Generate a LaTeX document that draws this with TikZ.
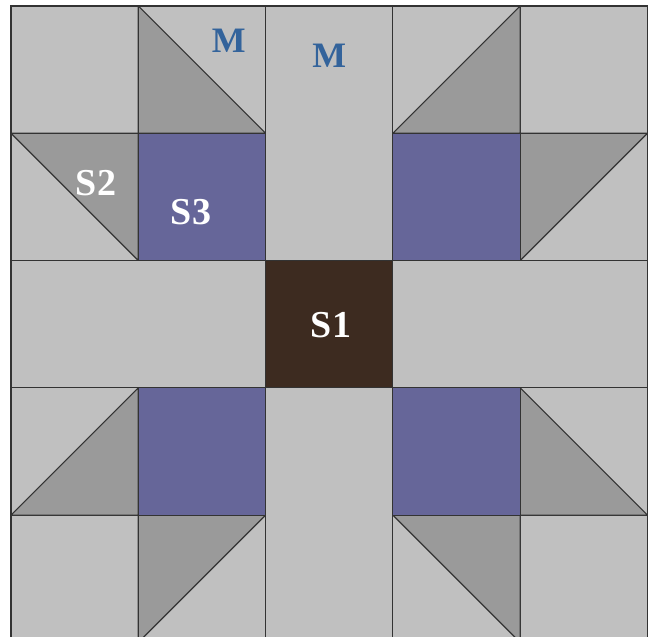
\documentclass[tikz,border=0pt]{standalone}
\usepackage{fontspec}
\setmainfont{Liberation Serif}

\definecolor{patchlight}{HTML}{C0C0C0}
\definecolor{patchdark}{HTML}{9A9A9A}
\definecolor{patchpurple}{HTML}{666699}
\definecolor{patchbrown}{HTML}{3D2B20}
\definecolor{labelblue}{HTML}{33639B}

\tikzset{
  piece/.style={draw=black!80, line width=0.5pt},
  light/.style={piece, fill=patchlight},
  dark/.style={piece, fill=patchdark, line join=round},
  purple/.style={piece, fill=patchpurple},
  brown/.style={piece, fill=patchbrown},
  seamtext/.style={font=\bfseries\fontsize{17}{20}\selectfont, text=white},
  marktext/.style={font=\bfseries\fontsize{16}{19}\selectfont, text=labelblue}
}

\begin{document}
\begin{tikzpicture}[x=2cm,y=2cm]

\useasboundingbox (-0.0864,0.043) rectangle (5.02,5.047);
\fill[white] (-0.0864,0.043) rectangle (5.02,5.047);

% Corners
\draw[light] (0,4) rectangle (1,5);
\draw[light] (4,4) rectangle (5,5);
\draw[light] (0,0) rectangle (1,1);
\draw[light] (4,0) rectangle (5,1);

% Half square triangles
\draw[light] (1,4) rectangle (2,5);
\draw[light] (3,4) rectangle (4,5);
\draw[light] (0,3) rectangle (1,4);
\draw[light] (4,3) rectangle (5,4);
\draw[light] (0,1) rectangle (1,2);
\draw[light] (4,1) rectangle (5,2);
\draw[light] (1,0) rectangle (2,1);
\draw[light] (3,0) rectangle (4,1);

\draw[dark] (1,5) -- (1,4) -- (2,4) -- cycle;
\draw[dark] (3,4) -- (4,5) -- (4,4) -- cycle;
\draw[dark] (0,4) -- (1,4) -- (1,3) -- cycle;
\draw[dark] (4,4) -- (5,4) -- (4,3) -- cycle;
\draw[dark] (0,1) -- (1,2) -- (1,1) -- cycle;
\draw[dark] (4,2) -- (4,1) -- (5,1) -- cycle;
\draw[dark] (1,1) -- (2,1) -- (1,0) -- cycle;
\draw[dark] (3,1) -- (4,1) -- (4,0) -- cycle;

% Strips
\draw[light] (2,3) rectangle (3,5);
\draw[light] (2,0) rectangle (3,2);
\draw[light] (0,2) rectangle (2,3);
\draw[light] (3,2) rectangle (5,3);

% Squares
\draw[purple] (1,3) rectangle (2,4);
\draw[purple] (3,3) rectangle (4,4);
\draw[purple] (1,1) rectangle (2,2);
\draw[purple] (3,1) rectangle (4,2);

\draw[brown] (2,2) rectangle (3,3);

% Labels
\node[marktext] (m1) at (1.71,4.73) {M};
\node[marktext] (m2) at (2.50,4.61) {M};
\node[seamtext] (s2) at (0.668,3.61) {S2};
\node[seamtext] (s3) at (1.414,3.38) {S3};
\node[seamtext] (s1) at (2.514,2.49) {S1};

\end{tikzpicture}
\end{document}
